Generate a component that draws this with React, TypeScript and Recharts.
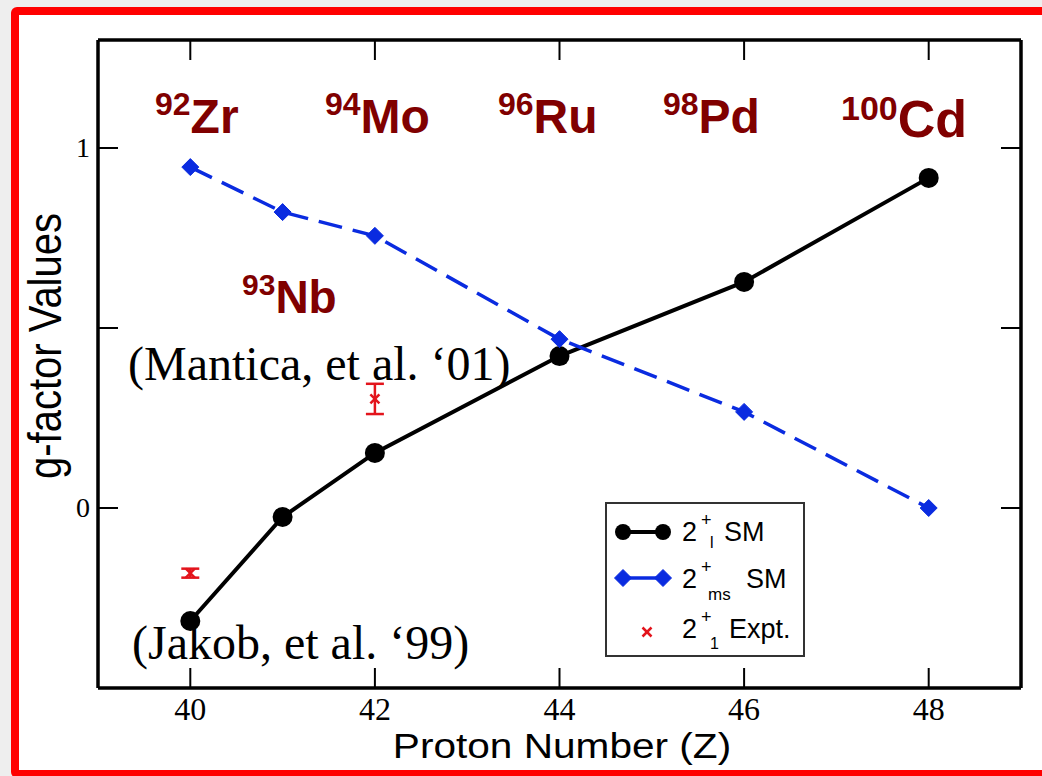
import React from 'react';
import { ComposedChart, Line, Scatter, XAxis, YAxis, ErrorBar, Legend } from 'recharts';

// g-factors vs proton number (N = 52 isotones)
const protonZ = [40, 41, 42, 44, 46, 48];
const gLowSM = [-0.314, -0.025, 0.153, 0.422, 0.628, 0.917];
const gMsSM = [0.947, 0.822, 0.756, 0.469, 0.267, 0.0];
const exptZ = [40, 42];
const gExpt = [-0.181, 0.303];
const gExptErr = [0.0125, 0.042];

const xTicks = [40, 42, 44, 46, 48];
const yTicks = [0, 0.5, 1];
const yTickLabels = ['0', '', '1'];

const isotopeMass = ['92', '94', '96', '98', '100', '93'];
const isotopeSym = ['Zr', 'Mo', 'Ru', 'Pd', 'Cd', 'Nb'];

const lowData = protonZ.map((z, i) => ({ z, g: gLowSM[i] }));
const msData = protonZ.map((z, i) => ({ z, g: gMsSM[i] }));
const exptData = exptZ.map((z, i) => ({ z, g: gExpt[i], err: gExptErr[i] }));

const W = 1042;
const H = 776;
const STRETCH = 1.16;
const BLUE = '#0a2be0';
const RED = '#e3141c';
const DARK_RED = '#800000';
const SANS = '"Liberation Sans", Arial, sans-serif';
const SERIF = '"Liberation Serif", "Times New Roman", serif';
const TICK_LEN = 20;

// where the isotope labels sit on the slide
const isoPos = [
  { x: 155, y: 133, size: 48, sup: 32, dy: 18 },
  { x: 325, y: 133, size: 48, sup: 32, dy: 18 },
  { x: 498, y: 133, size: 48, sup: 32, dy: 18 },
  { x: 663, y: 133, size: 48, sup: 32, dy: 18 },
  { x: 841, y: 137, size: 52, sup: 34, dy: 17 },
  { x: 242, y: 313, size: 46, sup: 30, dy: 18 },
];

const BottomTick = (props: any) => {
  const { x, y, payload } = props;
  return (
    <g>
      <line x1={x} y1={y} x2={x} y2={y - TICK_LEN} stroke="#000" strokeWidth={2} />
      <text x={x} y={y + 32} textAnchor="middle" fontFamily={SERIF} fontSize={32} fill="#000">
        {payload.value}
      </text>
    </g>
  );
};

const TopTick = (props: any) => {
  const { x, y } = props;
  return <line x1={x} y1={y} x2={x} y2={y + TICK_LEN} stroke="#000" strokeWidth={2} />;
};

const LeftTick = (props: any) => {
  const { x, y, index } = props;
  return (
    <g>
      <line x1={x} y1={y} x2={x + TICK_LEN} y2={y} stroke="#000" strokeWidth={2} />
      <text x={x - 8} y={y + 9} textAnchor="end" fontFamily={SERIF} fontSize={28} fill="#000">
        {yTickLabels[index]}
      </text>
    </g>
  );
};

const RightTick = (props: any) => {
  const { x, y } = props;
  return <line x1={x} y1={y} x2={x - TICK_LEN} y2={y} stroke="#000" strokeWidth={2} />;
};

const Diamond = (props: any) => {
  const { cx, cy } = props;
  if (cx == null || cy == null) return null;
  const s = 8.5;
  return (
    <polygon
      points={`${cx},${cy - s} ${cx + s},${cy} ${cx},${cy + s} ${cx - s},${cy}`}
      fill={BLUE}
      stroke={BLUE}
    />
  );
};

const Cross = (props: any) => {
  const { cx, cy } = props;
  const s = 4.5;
  return (
    <g stroke={RED} strokeWidth={2.5}>
      <line x1={cx - s} y1={cy - s} x2={cx + s} y2={cy + s} />
      <line x1={cx - s} y1={cy + s} x2={cx + s} y2={cy - s} />
    </g>
  );
};

const LegendBox = () => (
  <svg width={200} height={155} style={{ display: 'block' }}>
    <rect x={1} y={1} width={198} height={153} fill="#fff" stroke="#333" strokeWidth={2} />
    <g fontFamily={SANS} fill="#000">
      {/* row 1 */}
      <line x1={18} y1={30} x2={58} y2={30} stroke="#000" strokeWidth={4} />
      <circle cx={18} cy={30} r={8} fill="#000" />
      <circle cx={58} cy={30} r={8} fill="#000" />
      <text x={77} y={39} fontSize={27}>2</text>
      <text x={96} y={24} fontSize={18}>+</text>
      <text x={105} y={46} fontSize={16}>l</text>
      <text x={119} y={39} fontSize={27}>SM</text>
      {/* row 2 */}
      <line x1={18} y1={76} x2={58} y2={76} stroke={BLUE} strokeWidth={3.5} />
      <Diamond cx={18} cy={76} />
      <Diamond cx={58} cy={76} />
      <text x={77} y={86} fontSize={27}>2</text>
      <text x={96} y={71} fontSize={18}>+</text>
      <text x={103} y={98} fontSize={17}>ms</text>
      <text x={141} y={86} fontSize={27}>SM</text>
      {/* row 3 */}
      <Cross cx={42} cy={130} />
      <text x={77} y={136} fontSize={27}>2</text>
      <text x={96} y={121} fontSize={18}>+</text>
      <text x={105} y={147} fontSize={16}>1</text>
      <text x={124} y={136} fontSize={27}>Expt.</text>
    </g>
  </svg>
);

export default function App() {
  return (
    <div
      style={{
        position: 'fixed',
        left: 0,
        top: 0,
        width: W,
        height: H,
        overflow: 'hidden',
        background: '#eeeeee',
      }}
    >
      <div
        style={{
          position: 'absolute',
          left: 11,
          top: 7,
          width: W + 20,
          height: 771,
          border: '8px solid #ff0000',
          borderRadius: 6,
          boxSizing: 'border-box',
          background: '#fff',
        }}
      />
      <div style={{ position: 'absolute', left: 0, top: 0 }}>
        <ComposedChart
          width={W}
          height={H}
          margin={{ top: 39, right: 20, bottom: 8, left: 38 }}
        >
          <XAxis
            xAxisId={0}
            type="number"
            dataKey="z"
            domain={[39, 49]}
            ticks={xTicks}
            interval={0}
            height={80}
            tickSize={0}
            tickMargin={0}
            tickLine={false}
            tick={<BottomTick />}
            axisLine={{ stroke: '#000', strokeWidth: 3.5 }}
            allowDataOverflow
          />
          <XAxis
            xAxisId="top"
            orientation="top"
            type="number"
            dataKey="z"
            domain={[39, 49]}
            ticks={xTicks}
            interval={0}
            height={1}
            tickSize={0}
            tickMargin={0}
            tickLine={false}
            tick={<TopTick />}
            axisLine={{ stroke: '#000', strokeWidth: 3.5 }}
            allowDataOverflow
          />
          <YAxis
            yAxisId={0}
            type="number"
            domain={[-0.5, 1.3]}
            ticks={yTicks}
            interval={0}
            width={60}
            tickSize={0}
            tickMargin={0}
            tickLine={false}
            tick={<LeftTick />}
            axisLine={{ stroke: '#000', strokeWidth: 3.5 }}
            allowDataOverflow
          />
          <YAxis
            yAxisId="right"
            orientation="right"
            type="number"
            domain={[-0.5, 1.3]}
            ticks={yTicks}
            interval={0}
            width={1}
            tickSize={0}
            tickMargin={0}
            tickLine={false}
            tick={<RightTick />}
            axisLine={{ stroke: '#000', strokeWidth: 3.5 }}
            allowDataOverflow
          />
          <Line
            data={lowData}
            dataKey="g"
            name="2+l SM"
            type="linear"
            stroke="#000"
            strokeWidth={4}
            dot={{ r: 10, fill: '#000', stroke: '#000', strokeWidth: 0 }}
            isAnimationActive={false}
          />
          <Line
            data={msData}
            dataKey="g"
            name="2+ms SM"
            type="linear"
            stroke={BLUE}
            strokeWidth={3.5}
            strokeDasharray="24 11"
            dot={<Diamond />}
            isAnimationActive={false}
          />
          <Scatter
            data={exptData}
            dataKey="g"
            name="2+1 Expt."
            shape={<Cross />}
            isAnimationActive={false}
          >
            <ErrorBar dataKey="err" direction="y" width={9} stroke={RED} strokeWidth={2.5} isAnimationActive={false} />
          </Scatter>
          <Legend
            layout="vertical"
            align="center"
            verticalAlign="middle"
            content={() => <LegendBox />}
            wrapperStyle={{ position: 'absolute', left: 605, top: 502, width: 200, height: 155 }}
          />
        </ComposedChart>
      </div>
      <svg
        width={W}
        height={H}
        style={{ position: 'absolute', left: 0, top: 0, pointerEvents: 'none' }}
      >
        {isotopeSym.map((sym, i) => {
          const p = isoPos[i];
          return (
            <text
              key={sym}
              transform={`translate(${p.x},${p.y})`}
              fill={DARK_RED}
              fontFamily={SANS}
              fontWeight="bold"
            >
              <tspan fontSize={p.sup} dy={-p.dy}>{isotopeMass[i]}</tspan>
              <tspan fontSize={p.size} dy={p.dy}>{sym}</tspan>
            </text>
          );
        })}
        <text x={128} y={380} fontFamily={SERIF} fontSize={48} fill="#000">
          (Mantica, et al. ‘01)
        </text>
        <text x={132} y={659} fontFamily={SERIF} fontSize={48} fill="#000">
          (Jakob, et al. ‘99)
        </text>
        <text
          transform={`translate(562,758) scale(${STRETCH},1)`}
          textAnchor="middle"
          fontFamily={SANS}
          fontSize={35}
          fill="#000"
        >
          Proton Number (Z)
        </text>
        <text
          transform={`translate(61,346) rotate(-90) scale(1,${STRETCH})`}
          textAnchor="middle"
          fontFamily={SANS}
          fontSize={40}
          fill="#000"
        >
          g-factor Values
        </text>
      </svg>
    </div>
  );
}
